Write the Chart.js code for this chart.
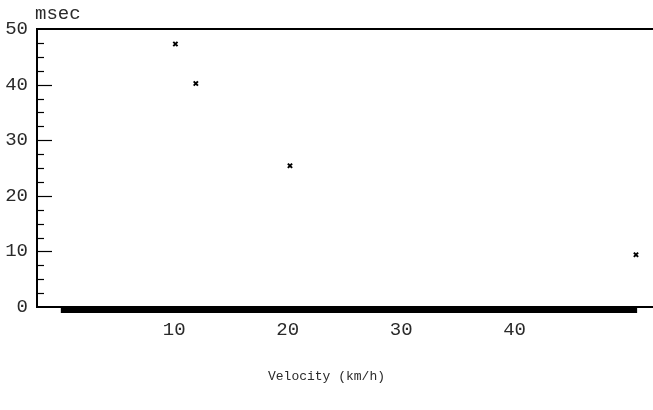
<!DOCTYPE html>
<html>
<head>
<meta charset="utf-8">
<script src="https://cdn.jsdelivr.net/npm/chart.js@4"></script>
<style>
  html, body { margin: 0; padding: 0; background: #fff; }
  canvas { display: block; }
</style>
</head>
<body>
<canvas id="velocityChart" width="653" height="410"></canvas>
<script>
// data
const velocity = [10.1, 11.9, 20.2, 50.7];
const delay = [47.3, 40.2, 25.4, 9.4];
const xTickValues = [10, 20, 30, 40];
const yTickValues = [0, 10, 20, 30, 40, 50];

const FONT = 'Liberation Mono';
const INK = '#2a2a2a';

// inward ticks on the y axis, the top frame line, unit label, x title and the heavy baseline
const framePlugin = {
    id: 'frame',
    afterDraw(chart) {
        const ctx = chart.ctx;
        const area = chart.chartArea;
        const x = chart.scales.x;
        const y = chart.scales.y;
        ctx.save();
        ctx.strokeStyle = '#000';
        ctx.lineWidth = 2;
        ctx.beginPath();
        ctx.moveTo(area.left, area.top);
        ctx.lineTo(area.right, area.top);
        ctx.stroke();

        ctx.lineWidth = 1.2;
        for (let v = 2.5; v < 50; v += 2.5) {
            const py = Math.round(y.getPixelForValue(v)) + 0.5;
            const len = v % 10 === 0 ? 15 : 7;
            ctx.beginPath();
            ctx.moveTo(area.left, py);
            ctx.lineTo(area.left + len, py);
            ctx.stroke();
        }

        // heavy band under the x axis
        const x0 = x.getPixelForValue(0);
        const x1 = x.getPixelForValue(50.8);
        ctx.fillStyle = '#000';
        ctx.fillRect(x0, area.bottom + 1, x1 - x0, 5);

        ctx.fillStyle = INK;
        ctx.font = '19px "' + FONT + '"';
        ctx.textBaseline = 'alphabetic';
        ctx.textAlign = 'left';
        ctx.fillText('msec', 35, 19);

        ctx.font = '13px "' + FONT + '"';
        ctx.textAlign = 'center';
        ctx.textBaseline = 'middle';
        ctx.fillText('Velocity (km/h)', chart.width / 2, 377);
        ctx.restore();
    }
};

document.addEventListener('DOMContentLoaded', () => {
    const ctx = document.getElementById('velocityChart').getContext('2d');
    new Chart(ctx, {
        type: 'scatter',
        data: {
            datasets: [{
                data: velocity.map((v, i) => ({ x: v, y: delay[i] })),
                pointStyle: 'crossRot',
                pointRadius: 3,
                borderColor: '#000',
                borderWidth: 2
            }]
        },
        options: {
            responsive: false,
            animation: false,
            layout: { autoPadding: false, padding: { top: 29, right: 0, left: 0, bottom: 0 } },
            plugins: {
                legend: { display: false },
                tooltip: { enabled: false }
            },
            scales: {
                x: {
                    type: 'linear',
                    min: -2.1,
                    max: 52.2,
                    afterBuildTicks: s => { s.ticks = xTickValues.map(v => ({ value: v })); },
                    afterFit: s => { s.height = 103; s.paddingLeft = 0; s.paddingRight = 0; },
                    grid: { display: false, drawTicks: false },
                    border: { display: true, color: '#000', width: 2 },
                    ticks: {
                        padding: 12,
                        color: INK,
                        font: { family: FONT, size: 19 }
                    }
                },
                y: {
                    type: 'linear',
                    min: 0,
                    max: 50,
                    afterBuildTicks: s => { s.ticks = yTickValues.map(v => ({ value: v })); },
                    afterFit: s => { s.width = 37; },
                    grid: { display: false, drawTicks: false },
                    border: { display: true, color: '#000', width: 2 },
                    ticks: {
                        padding: 9,
                        color: INK,
                        font: { family: FONT, size: 19 }
                    }
                }
            }
        },
        plugins: [framePlugin]
    });
});
</script>
</body>
</html>
